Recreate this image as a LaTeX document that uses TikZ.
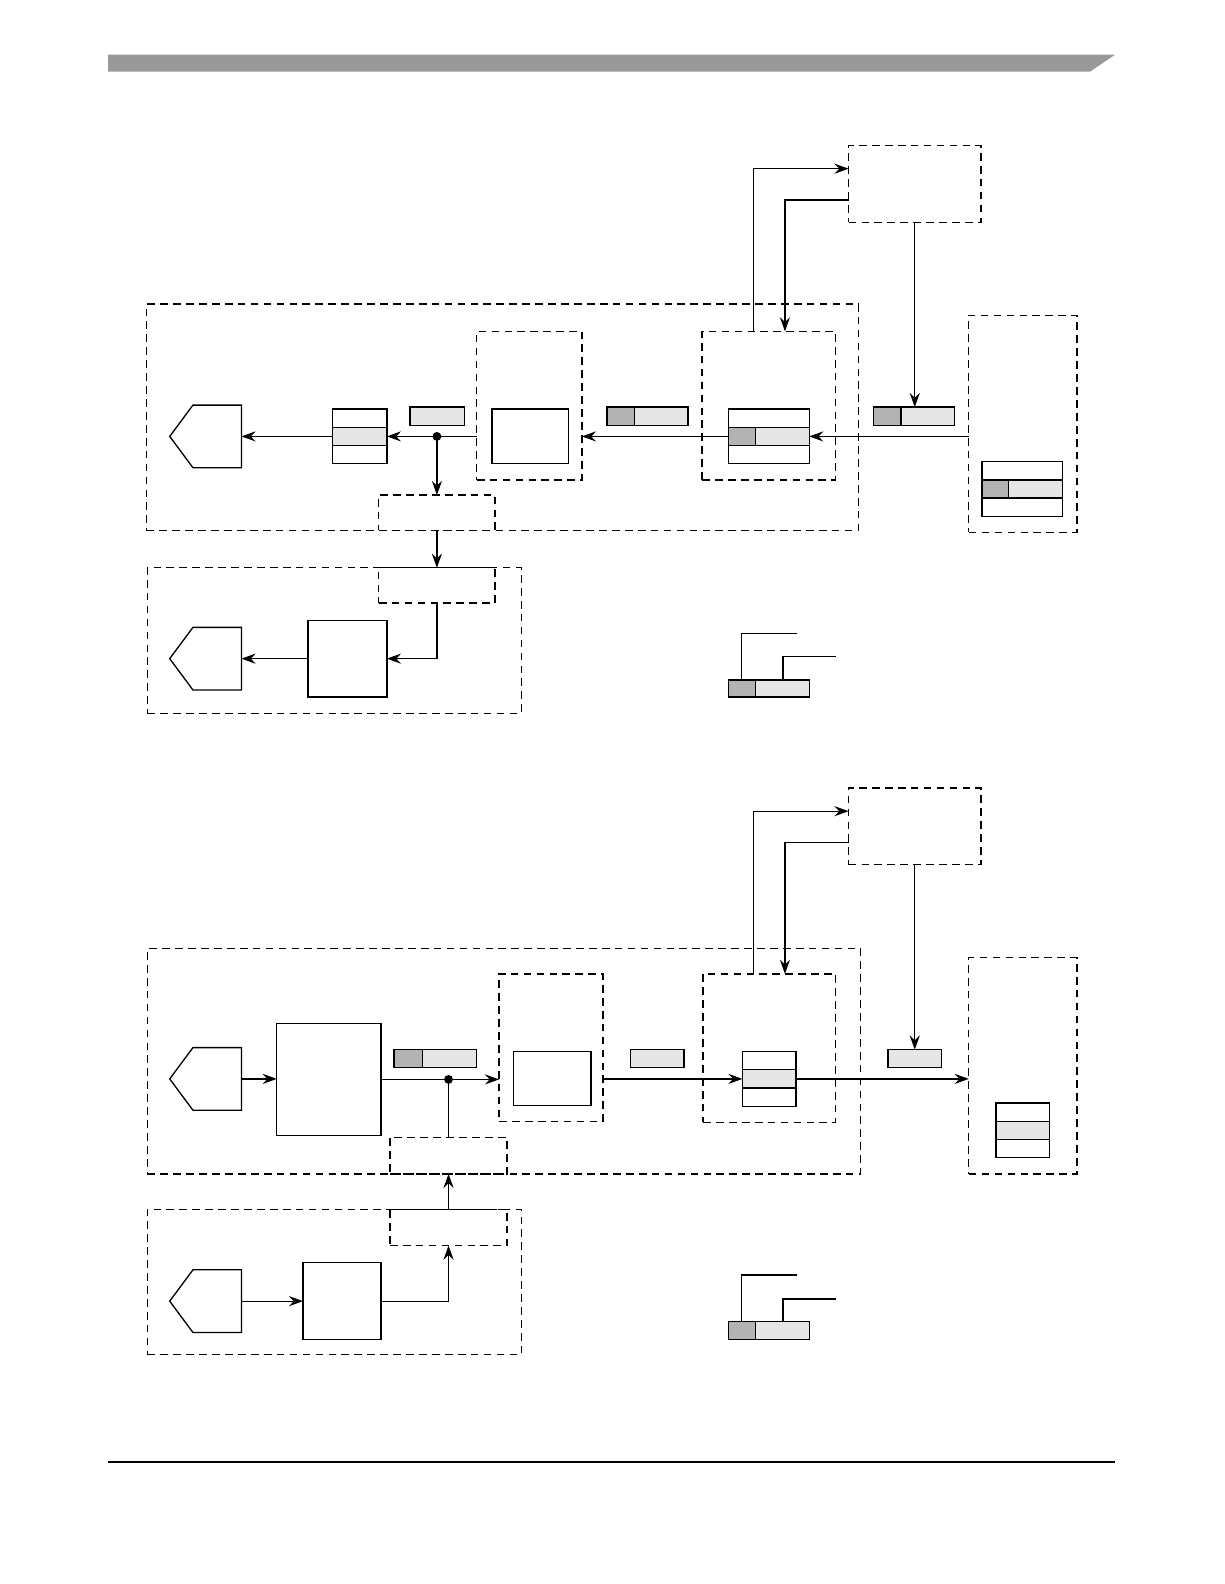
\documentclass[tikz,border=0pt]{standalone}
\usetikzlibrary{arrows.meta}
\definecolor{lightg}{HTML}{E6E6E6}
\definecolor{darkg}{HTML}{B3B3B3}
\definecolor{barg}{HTML}{999999}
\newcommand\mybox[6]{\node[#2, minimum width={(#5-#3)*0.5pt}, minimum height={(#6-#4)*0.5pt}] (#1) at ({(#3+#5)/2},{(#4+#6)/2}) {};}
\newcommand\segbox[5]{%
 \fill[lightg] (#2,{#3+(#5-#3)/3}) rectangle (#4,{#3+2*(#5-#3)/3});
 \draw[ln] (#2,{#3+(#5-#3)/3}) -- (#4,{#3+(#5-#3)/3});
 \draw[ln] (#2,{#3+2*(#5-#3)/3}) -- (#4,{#3+2*(#5-#3)/3});
 \mybox{#1}{sbox}{#2}{#3}{#4}{#5}}
\newcommand\darkpart[4]{\filldraw[ln,fill=darkg] (#1,#2) rectangle (#3,#4);}
\newcommand\pent[3]{%
 \draw[ln] (239,#2) -- (191,#2) -- (168,{(#2+#3)/2}) -- (191,#3) -- (239,#3) -- cycle;
 \coordinate (#1) at (239,{(#2+#3)/2});}
\tikzset{
 ln/.style={line width=0.65pt},
 dbox/.style={draw, dash pattern=on 3.8pt off 2.6pt, line width=0.65pt, inner sep=0pt, outer sep=0pt},
 sbox/.style={draw, line width=0.65pt, inner sep=0pt, outer sep=0pt},
 arr/.style={line width=0.65pt, -{Stealth[length=7pt, width=5pt, inset=2.4pt]}},
}
\begin{document}
\begin{tikzpicture}[x=0.5pt, y=-0.5pt]
\useasboundingbox (0,0) rectangle (1212,1568);
% header and footer
\fill[barg] (107,54) -- (1104,54) -- (1079,71) -- (107,71) -- cycle;
\draw[line width=0.8pt] (107,1447) -- (1104,1447);

% ===== top diagram =====
\mybox{big1}{dbox}{145}{301}{850}{525}
\mybox{A1}{dbox}{840}{144}{971}{220}
\mybox{B1}{dbox}{472}{328}{576}{475}
\mybox{C1}{dbox}{695}{328}{827}{475}
\mybox{D1}{dbox}{959}{312}{1066}{527}
\mybox{sd1}{dbox}{375}{490}{490}{525}
\mybox{E1}{dbox}{146}{562}{516}{706}
\mybox{sd2}{dbox}{375}{562}{490}{597}

\pent{p1}{401}{463}
\segbox{seg1}{329}{405}{383}{459}
\mybox{lab1}{sbox,fill=lightg}{406}{403}{460}{421}
\mybox{sqB1}{sbox}{487}{405}{563}{459}
\mybox{lab2}{sbox,fill=lightg}{601}{403}{681}{421}
\darkpart{601}{403}{628}{421}
\segbox{seg2}{721}{405}{801}{459}
\darkpart{721}{423}{748}{441}
\mybox{lab3}{sbox,fill=lightg}{865}{403}{945}{421}
\darkpart{865}{403}{892}{421}
\segbox{seg3}{972}{457}{1052}{511}
\darkpart{972}{475}{998}{493}
\mybox{sq1}{sbox}{305}{614}{383}{690}
\pent{p2}{621}{683}

% legend 1
\mybox{leg1}{sbox,fill=lightg}{721}{673}{801}{690}
\darkpart{721}{673}{748}{690}
\draw[ln] (734,673) |- (789,627);
\draw[ln] (775,673) |- (828,650);

% connectors top
\draw[arr] (seg2.west) -- (seg2.west -| B1.east);
\draw[arr] (seg2.east -| D1.west) -- (seg2.east);
\draw[arr] (B1.west |- seg1.east) -- (seg1.east);
\coordinate (dot1) at (sd1.north |- seg1.east);
\fill (dot1) circle (2.2pt);
\draw[arr] (dot1) -- (sd1.north);
\draw[arr] (seg1.west) -- (p1);
\draw[arr] (sd1.south) -- (sd2.north);
\draw[arr] (sd2.south) |- (sq1.east);
\draw[arr] (sq1.west) -- (p2);
\draw[arr] (A1.south) -- (A1.south |- lab3.north);
\coordinate (a1) at (746,167);
\coordinate (a2) at (777,198);
\draw[arr] (a1 |- C1.north) -- (a1) -- (a1 -| A1.west);
\draw[arr] (a2 -| A1.west) -- (a2) -- (a2 |- C1.north);

% ===== bottom diagram =====
\mybox{big2}{dbox}{146}{939}{852}{1162}
\mybox{A2}{dbox}{840}{780}{971}{856}
\mybox{B2}{dbox}{494}{964}{597}{1110}
\mybox{C2}{dbox}{696}{964}{827}{1111}
\mybox{D2}{dbox}{959}{948}{1066}{1162}
\mybox{sd3}{dbox}{386}{1126}{502}{1162}
\mybox{F2}{dbox}{146}{1197}{516}{1341}
\mybox{sd4}{dbox}{386}{1197}{502}{1233}

\pent{p3}{1037}{1099}
\mybox{sqb}{sbox}{274}{1013}{377}{1124}
\mybox{lab4}{sbox,fill=lightg}{390}{1039}{472}{1057}
\darkpart{390}{1039}{418}{1057}
\mybox{sqB2}{sbox}{508}{1041}{585}{1094}
\mybox{lab5}{sbox,fill=lightg}{624}{1039}{677}{1057}
\segbox{seg4}{735}{1041}{788}{1095}
\mybox{lab6}{sbox,fill=lightg}{879}{1039}{932}{1057}
\segbox{seg5}{986}{1092}{1039}{1146}
\pent{p4}{1257}{1319}
\mybox{sqf}{sbox}{300}{1250}{377}{1326}

% legend 2
\mybox{leg2}{sbox,fill=lightg}{721}{1308}{801}{1326}
\darkpart{721}{1308}{748}{1326}
\draw[ln] (734,1308) |- (789,1262);
\draw[ln] (775,1308) |- (828,1286);

% connectors bottom
\draw[arr] (p3) -- (p3 -| sqb.west);
\draw[arr] (sqb.east) -- (sqb.east -| B2.west);
\coordinate (dot2) at (sd3.north |- sqb.east);
\fill (dot2) circle (2.2pt);
\draw[ln] (dot2) -- (sd3.north);
\draw[arr] (seg4.west -| B2.east) -- (seg4.west);
\draw[arr] (seg4.east) -- (seg4.east -| D2.west);
\draw[arr] (A2.south) -- (A2.south |- lab6.north);
\coordinate (a3) at (746,803);
\coordinate (a4) at (777,834);
\draw[arr] (a3 |- C2.north) -- (a3) -- (a3 -| A2.west);
\draw[arr] (a4 -| A2.west) -- (a4) -- (a4 |- C2.north);
\draw[arr] (sd4.north) -- (sd3.south);
\draw[arr] (sqf.east) -| (sd4.south);
\draw[arr] (p4) -- (p4 -| sqf.west);
\end{tikzpicture}
\end{document}
